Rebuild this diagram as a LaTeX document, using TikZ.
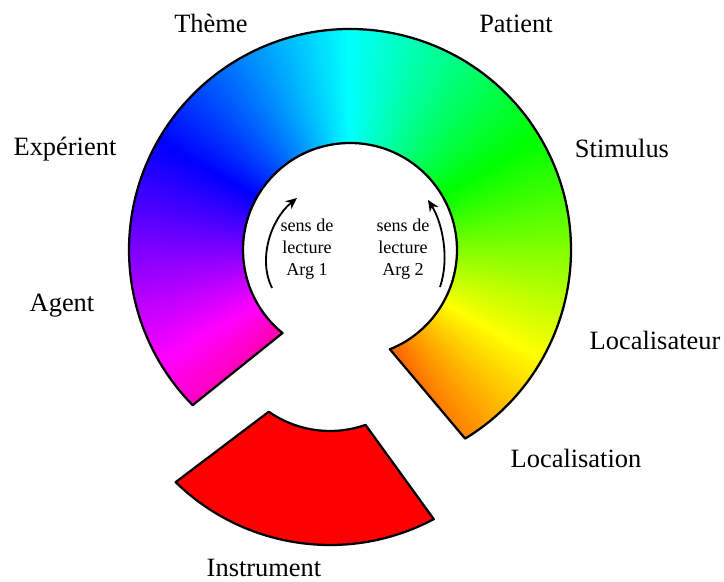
\documentclass[tikz,border=0pt]{standalone}
\usepackage{fontspec}
\setmainfont{Liberation Serif}
\usetikzlibrary{arrows.meta}

\begin{document}
\begin{tikzpicture}[x=0.025cm,y=0.025cm]%
\tikzstyle{role} = [font=\fontsize{18.8}{22}\selectfont, anchor=base]
\tikzstyle{lecture} = [font=\fontsize{12.9}{15.6}\selectfont, align=center, inner sep=0pt]
\tikzstyle{bord} = [draw=black, line width=1.6pt, line join=round]
\tikzstyle{sens} = [-{Stealth[length=8pt,width=7pt,inset=2.5pt]}, line width=1.3pt]

\useasboundingbox (0,0) rectangle (724,582);
\coordinate (C) at (350,332); % centre de la roue
\coordinate (I) at (330,258); % centre du morceau Instrument

% roue des couleurs
\begin{scope}
\clip ([shift={(C)}]-58.6:221) arc[start angle=-58.6, end angle=224.6, radius=221]
  -- ([shift={(C)}]230.9:107) arc[start angle=230.9, end angle=-68.1, radius=107] -- cycle;
\foreach \a in {-72,...,232} {
  \pgfmathsetmacro\h{\a+90}
  \pgfmathsetmacro\b{\a+1.5}
  \definecolor{teinte}{Hsb}{\h,1,1}
  \fill[teinte] (C) -- ([shift={(C)}]\a:240) -- ([shift={(C)}]\b:240) -- cycle;
}
\end{scope}
\draw[bord] ([shift={(C)}]-58.6:221) arc[start angle=-58.6, end angle=224.6, radius=221]
  -- ([shift={(C)}]230.9:107) arc[start angle=230.9, end angle=-68.1, radius=107] -- cycle;

% morceau detache
\draw[bord, fill=red] ([shift={(I)}]225.7:221) arc[start angle=225.7, end angle=298, radius=221]
  -- ([shift={(I)}]289.4:107) arc[start angle=289.4, end angle=235.1, radius=107] -- cycle;

% sens de lecture
\node[lecture] (arg1) at (307,333) {sens de\\lecture\\Arg 1};
\node[lecture] (arg2) at (403,333) {sens de\\lecture\\Arg 2};
\draw[sens] (272,294) .. controls (258,322) and (270,362) .. (297,384);
\draw[sens] (440,295) .. controls (450,324) and (442,360) .. (428,382);

% roles
\node[role] (theme) at (211,549) {Thème};
\node[role] (patient) at (516,549) {Patient};
\node[role] (experient) at (65,426) {Expérient};
\node[role] (stimulus) at (622,424) {Stimulus};
\node[role] (agent) at (62,270) {Agent};
\node[role] (localisateur) at (655,232) {Localisateur};
\node[role] (localisation) at (576,114) {Localisation};
\node[role] (instrument) at (264,5) {Instrument};
\end{tikzpicture}
\end{document}
